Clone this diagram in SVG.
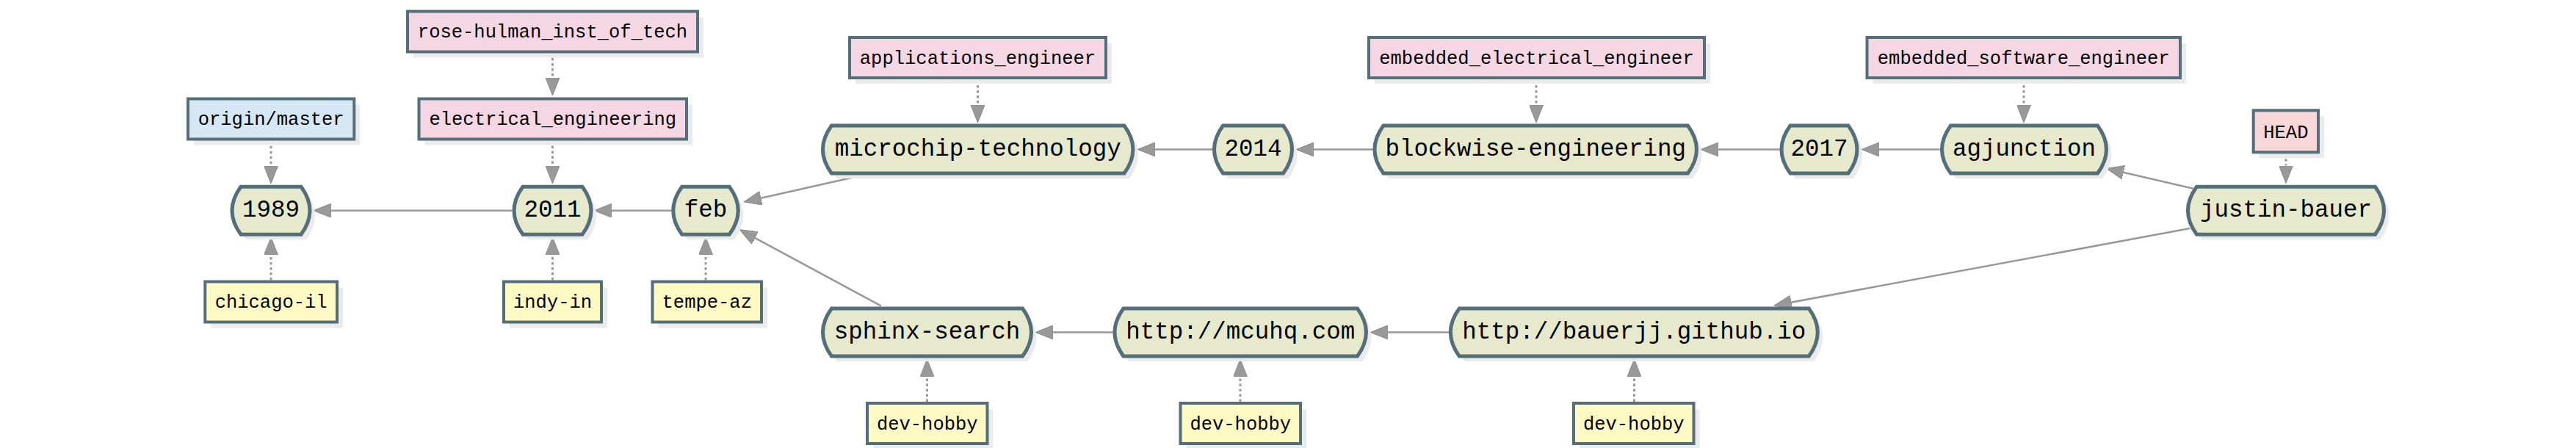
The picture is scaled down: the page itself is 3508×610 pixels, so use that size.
<svg xmlns="http://www.w3.org/2000/svg" width="3508" height="610" viewBox="0 0 3508 610">
<style>
.c{fill:#e6e9cc;stroke:#546e7a;stroke-width:5;stroke-linejoin:miter}
.sh{fill:#ebebeb;stroke:none}
.lb{stroke:#546e7a;stroke-width:4}
.pk{fill:#f5d7e4}
.bl{fill:#d6e8f5}
.yl{fill:#fff9c4}
.hd{fill:#f8d7d8}
.ct{font-family:"Liberation Mono","DejaVu Sans Mono",monospace;font-size:32.5px;fill:#000;text-anchor:middle}
.lt{font-family:"Liberation Mono","DejaVu Sans Mono",monospace;font-size:25.5px;fill:#000;text-anchor:middle}
.e{stroke:#999;stroke-width:2.6;fill:none;marker-end:url(#ah)}
.d{stroke:#999;stroke-width:3;fill:none;stroke-dasharray:3.5 3.5;marker-end:url(#ah)}
</style>
<defs>
<marker id="ah" viewBox="0 0 24 19" refX="0" refY="9.5" markerWidth="24" markerHeight="19" markerUnits="userSpaceOnUse" orient="auto">
<path d="M0,0 L24,9.5 L0,19 Z" fill="#999" stroke="#8c8c8c" stroke-width="1"/>
</marker>
</defs>
<rect width="3508" height="610" fill="#fff"/>

<g id="connectors">
<line class="e" x1="697" y1="286.7" x2="450.7" y2="286.7"/>
<line class="e" x1="914" y1="286.7" x2="833" y2="286.7"/>
<line class="e" x1="1173" y1="239" x2="1036.4" y2="269.7"/>
<line class="e" x1="1200" y1="416.7" x2="1028.4" y2="324.1"/>
<line class="e" x1="1651" y1="203.5" x2="1573" y2="203.5"/>
<line class="e" x1="1869.5" y1="203.5" x2="1789" y2="203.5"/>
<line class="e" x1="2423.6" y1="203.5" x2="2340" y2="203.5"/>
<line class="e" x1="2641.7" y1="203.5" x2="2559" y2="203.5"/>
<line class="e" x1="2986.7" y1="256.7" x2="2891.7" y2="234.7"/>
<line class="e" x1="2982" y1="311" x2="2439.6" y2="411.6"/>
<line class="e" x1="1515.5" y1="452.5" x2="1434" y2="452.5"/>
<line class="e" x1="1973" y1="452.5" x2="1890" y2="452.5"/>
<line class="d" x1="752.5" y1="72" x2="752.5" y2="106"/>
<line class="d" x1="752.5" y1="191.5" x2="752.5" y2="226"/>
<line class="d" x1="369" y1="191.7" x2="369" y2="226"/>
<line class="d" x1="369" y1="381.5" x2="369" y2="347"/>
<line class="d" x1="752.5" y1="381.5" x2="752.5" y2="347"/>
<line class="d" x1="961" y1="381.5" x2="961" y2="347"/>
<line class="d" x1="1331.5" y1="109" x2="1331.5" y2="143"/>
<line class="d" x1="2092" y1="109" x2="2092" y2="143"/>
<line class="d" x1="2756" y1="109" x2="2756" y2="143"/>
<line class="d" x1="3113" y1="209.3" x2="3113" y2="225.5"/>
<line class="d" x1="1262.5" y1="547" x2="1262.5" y2="513"/>
<line class="d" x1="1689" y1="547" x2="1689" y2="513"/>
<line class="d" x1="2225.5" y1="547" x2="2225.5" y2="513"/>
</g>

<!-- commits -->
<g id="c1989">
<path class="sh" transform="translate(7,7)" d="M328,254.2 H410 Q434,286.7 410,319.2 H328 Q304,286.7 328,254.2 Z"/>
<path class="c" d="M328,254.2 H410 Q434,286.7 410,319.2 H328 Q304,286.7 328,254.2 Z"/>
<text class="ct" x="369" y="294.7">1989</text>
</g>
<g id="c2011">
<path class="sh" transform="translate(7,7)" d="M712,254.2 H793 Q817,286.7 793,319.2 H712 Q688,286.7 712,254.2 Z"/>
<path class="c" d="M712,254.2 H793 Q817,286.7 793,319.2 H712 Q688,286.7 712,254.2 Z"/>
<text class="ct" x="752.5" y="294.7">2011</text>
</g>
<g id="cfeb">
<path class="sh" transform="translate(7,7)" d="M928.75,254.2 H993.25 Q1017.25,286.7 993.25,319.2 H928.75 Q904.75,286.7 928.75,254.2 Z"/>
<path class="c" d="M928.75,254.2 H993.25 Q1017.25,286.7 993.25,319.2 H928.75 Q904.75,286.7 928.75,254.2 Z"/>
<text class="ct" x="961" y="294.7">feb</text>
</g>
<g id="cjustin">
<path class="sh" transform="translate(7,7)" d="M2991.5,254.2 H3234.5 Q3258.5,286.7 3234.5,319.2 H2991.5 Q2967.5,286.7 2991.5,254.2 Z"/>
<path class="c" d="M2991.5,254.2 H3234.5 Q3258.5,286.7 3234.5,319.2 H2991.5 Q2967.5,286.7 2991.5,254.2 Z"/>
<text class="ct" x="3113" y="294.7">justin-bauer</text>
</g>
<g id="cmicrochip">
<path class="sh" transform="translate(7,7)" d="M1132.45,171 H1530.95 Q1554.95,203.5 1530.95,236 H1132.45 Q1108.45,203.5 1132.45,171 Z"/>
<path class="c" d="M1132.45,171 H1530.95 Q1554.95,203.5 1530.95,236 H1132.45 Q1108.45,203.5 1132.45,171 Z"/>
<text class="ct" x="1331.7" y="211.5">microchip-technology</text>
</g>
<g id="c2014">
<path class="sh" transform="translate(7,7)" d="M1665.5,171 H1747.5 Q1771.5,203.5 1747.5,236 H1665.5 Q1641.5,203.5 1665.5,171 Z"/>
<path class="c" d="M1665.5,171 H1747.5 Q1771.5,203.5 1747.5,236 H1665.5 Q1641.5,203.5 1665.5,171 Z"/>
<text class="ct" x="1706.5" y="211.5">2014</text>
</g>
<g id="cblockwise">
<path class="sh" transform="translate(7,7)" d="M1883.95,171 H2298.45 Q2322.45,203.5 2298.45,236 H1883.95 Q1859.95,203.5 1883.95,171 Z"/>
<path class="c" d="M1883.95,171 H2298.45 Q2322.45,203.5 2298.45,236 H1883.95 Q1859.95,203.5 1883.95,171 Z"/>
<text class="ct" x="2091.2" y="211.5">blockwise-engineering</text>
</g>
<g id="c2017">
<path class="sh" transform="translate(7,7)" d="M2438,171 H2517 Q2541,203.5 2517,236 H2438 Q2414,203.5 2438,171 Z"/>
<path class="c" d="M2438,171 H2517 Q2541,203.5 2517,236 H2438 Q2414,203.5 2438,171 Z"/>
<text class="ct" x="2477.5" y="211.5">2017</text>
</g>
<g id="cagjunction">
<path class="sh" transform="translate(7,7)" d="M2656.5,171 H2856.5 Q2880.5,203.5 2856.5,236 H2656.5 Q2632.5,203.5 2656.5,171 Z"/>
<path class="c" d="M2656.5,171 H2856.5 Q2880.5,203.5 2856.5,236 H2656.5 Q2632.5,203.5 2656.5,171 Z"/>
<text class="ct" x="2756.5" y="211.5">agjunction</text>
</g>
<g id="csphinx">
<path class="sh" transform="translate(7,7)" d="M1132.5,420 H1392.5 Q1416.5,452.5 1392.5,485 H1132.5 Q1108.5,452.5 1132.5,420 Z"/>
<path class="c" d="M1132.5,420 H1392.5 Q1416.5,452.5 1392.5,485 H1132.5 Q1108.5,452.5 1132.5,420 Z"/>
<text class="ct" x="1262.5" y="460.5">sphinx-search</text>
</g>
<g id="cmcuhq">
<path class="sh" transform="translate(7,7)" d="M1529.95,420 H1848.45 Q1872.45,452.5 1848.45,485 H1529.95 Q1505.95,452.5 1529.95,420 Z"/>
<path class="c" d="M1529.95,420 H1848.45 Q1872.45,452.5 1848.45,485 H1529.95 Q1505.95,452.5 1529.95,420 Z"/>
<text class="ct" x="1689.2" y="460.5">http://mcuhq.com</text>
</g>
<g id="cbauerjj">
<path class="sh" transform="translate(7,7)" d="M1987.3,420 H2463.3 Q2487.3,452.5 2463.3,485 H1987.3 Q1963.3,452.5 1987.3,420 Z"/>
<path class="c" d="M1987.3,420 H2463.3 Q2487.3,452.5 2463.3,485 H1987.3 Q1963.3,452.5 1987.3,420 Z"/>
<text class="ct" x="2225.3" y="460.5">http://bauerjj.github.io</text>
</g>

<!-- labels -->
<g id="lrose">
<rect class="sh" x="563" y="23.5" width="395" height="55"/>
<rect class="lb pk" x="555" y="15.5" width="395" height="55"/>
<text class="lt" x="752.5" y="51">rose-hulman_inst_of_tech</text>
</g>
<g id="lelec">
<rect class="sh" x="578.5" y="142.5" width="364.5" height="55"/>
<rect class="lb pk" x="570.5" y="134.5" width="364.5" height="55"/>
<text class="lt" x="752.75" y="170">electrical_engineering</text>
</g>
<g id="lorigin">
<rect class="sh" x="264" y="142.5" width="226.3" height="55"/>
<rect class="lb bl" x="256" y="134.5" width="226.3" height="55"/>
<text class="lt" x="369.15" y="170">origin/master</text>
</g>
<g id="lchicago">
<rect class="sh" x="287.3" y="391.5" width="179.7" height="55"/>
<rect class="lb yl" x="279.3" y="383.5" width="179.7" height="55"/>
<text class="lt" x="369.15" y="419">chicago-il</text>
</g>
<g id="lindy">
<rect class="sh" x="694" y="391.5" width="133" height="55"/>
<rect class="lb yl" x="686" y="383.5" width="133" height="55"/>
<text class="lt" x="752.5" y="419">indy-in</text>
</g>
<g id="ltempe">
<rect class="sh" x="896.5" y="391.5" width="148.5" height="55"/>
<rect class="lb yl" x="888.5" y="383.5" width="148.5" height="55"/>
<text class="lt" x="962.75" y="419">tempe-az</text>
</g>
<g id="lapp">
<rect class="sh" x="1165" y="59" width="349" height="55"/>
<rect class="lb pk" x="1157" y="51" width="349" height="55"/>
<text class="lt" x="1331.5" y="86.5">applications_engineer</text>
</g>
<g id="lembee">
<rect class="sh" x="1872" y="59" width="457" height="55"/>
<rect class="lb pk" x="1864" y="51" width="457" height="55"/>
<text class="lt" x="2092.5" y="86.5">embedded_electrical_engineer</text>
</g>
<g id="lembsw">
<rect class="sh" x="2550.5" y="59" width="426.5" height="55"/>
<rect class="lb pk" x="2542.5" y="51" width="426.5" height="55"/>
<text class="lt" x="2755.75" y="86.5">embedded_software_engineer</text>
</g>
<g id="lhead">
<rect class="sh" x="3076.7" y="158.3" width="88.3" height="57"/>
<rect class="lb hd" x="3068.7" y="150.3" width="88.3" height="57"/>
<text class="lt" x="3112.85" y="187.8">HEAD</text>
</g>
<g id="ldev1">
<rect class="sh" x="1189" y="557" width="163.5" height="55"/>
<rect class="lb yl" x="1181" y="549" width="163.5" height="55"/>
<text class="lt" x="1262.75" y="584.5">dev-hobby</text>
</g>
<g id="ldev2">
<rect class="sh" x="1615.5" y="557" width="163.5" height="55"/>
<rect class="lb yl" x="1607.5" y="549" width="163.5" height="55"/>
<text class="lt" x="1689.25" y="584.5">dev-hobby</text>
</g>
<g id="ldev3">
<rect class="sh" x="2151" y="557" width="163.5" height="55"/>
<rect class="lb yl" x="2143" y="549" width="163.5" height="55"/>
<text class="lt" x="2224.75" y="584.5">dev-hobby</text>
</g>
</svg>
